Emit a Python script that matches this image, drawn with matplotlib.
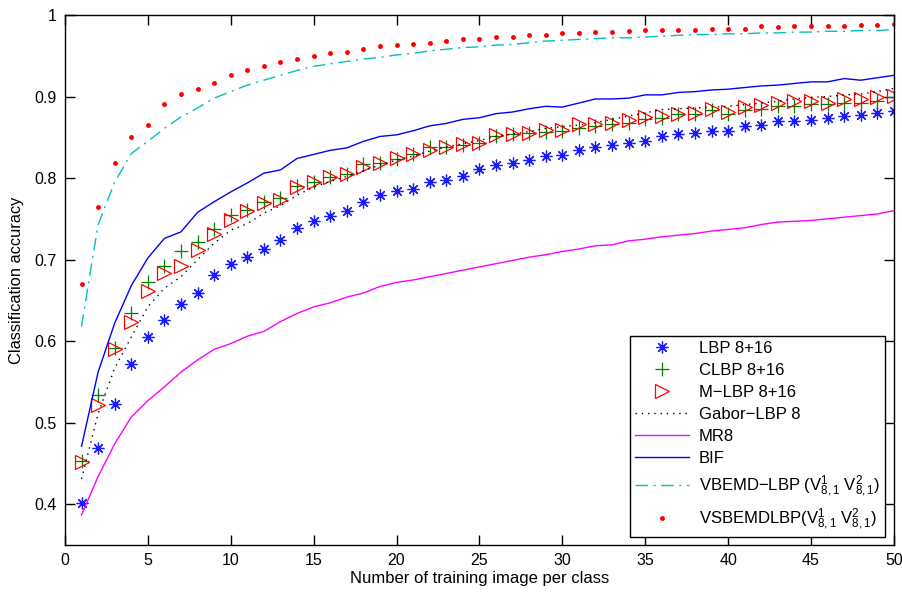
import numpy as np
import matplotlib
matplotlib.use("Agg")
import matplotlib.pyplot as plt

plt.rcParams.update({"font.family": ["Liberation Sans", "DejaVu Sans"],
                     "mathtext.fontset": "custom",
                     "mathtext.rm": "Liberation Sans",
                     "mathtext.it": "Liberation Sans",
                     "axes.linewidth": 1.0})

x = np.arange(1, 51)

lbp = [0.402, 0.469, 0.523, 0.572, 0.605, 0.626, 0.645, 0.659, 0.681, 0.694,
       0.703, 0.713, 0.724, 0.739, 0.747, 0.754, 0.759, 0.771, 0.779, 0.784,
       0.787, 0.795, 0.798, 0.803, 0.811, 0.816, 0.819, 0.822, 0.827, 0.828,
       0.834, 0.838, 0.840, 0.843, 0.845, 0.851, 0.854, 0.855, 0.858, 0.858,
       0.864, 0.865, 0.870, 0.870, 0.871, 0.874, 0.876, 0.877, 0.880, 0.882]
clbp = [0.453, 0.534, 0.591, 0.634, 0.672, 0.692, 0.711, 0.721, 0.737, 0.755,
        0.761, 0.771, 0.776, 0.790, 0.795, 0.801, 0.805, 0.817, 0.818, 0.823,
        0.830, 0.838, 0.838, 0.841, 0.843, 0.852, 0.854, 0.855, 0.856, 0.858,
        0.862, 0.864, 0.866, 0.867, 0.873, 0.874, 0.878, 0.879, 0.883, 0.879,
        0.883, 0.885, 0.888, 0.888, 0.891, 0.891, 0.892, 0.892, 0.895, 0.899]
mlbp = [0.452, 0.522, 0.590, 0.624, 0.661, 0.684, 0.692, 0.712, 0.732, 0.749,
        0.760, 0.769, 0.773, 0.789, 0.795, 0.801, 0.805, 0.814, 0.819, 0.825,
        0.829, 0.835, 0.838, 0.842, 0.843, 0.853, 0.854, 0.855, 0.859, 0.859,
        0.866, 0.866, 0.868, 0.871, 0.875, 0.876, 0.879, 0.880, 0.885, 0.881,
        0.887, 0.890, 0.892, 0.894, 0.895, 0.892, 0.897, 0.897, 0.899, 0.901]
gabor = [0.431, 0.511, 0.567, 0.605, 0.642, 0.665, 0.679, 0.700, 0.720, 0.736,
         0.744, 0.757, 0.766, 0.779, 0.789, 0.796, 0.802, 0.809, 0.816, 0.822,
         0.827, 0.833, 0.838, 0.842, 0.846, 0.851, 0.854, 0.857, 0.861, 0.863,
         0.865, 0.868, 0.872, 0.876, 0.880, 0.884, 0.885, 0.886, 0.887, 0.888,
         0.890, 0.892, 0.894, 0.897, 0.899, 0.900, 0.902, 0.903, 0.906, 0.910]
mr8 = [0.387, 0.434, 0.474, 0.507, 0.527, 0.544, 0.562, 0.577, 0.590, 0.597,
       0.606, 0.612, 0.624, 0.634, 0.642, 0.647, 0.654, 0.659, 0.667, 0.672,
       0.675, 0.679, 0.683, 0.687, 0.691, 0.695, 0.699, 0.703, 0.706, 0.710,
       0.713, 0.717, 0.718, 0.723, 0.725, 0.728, 0.730, 0.732, 0.735, 0.737,
       0.739, 0.743, 0.746, 0.747, 0.748, 0.750, 0.752, 0.754, 0.756, 0.760]
bif = [0.471, 0.562, 0.622, 0.668, 0.702, 0.726, 0.734, 0.758, 0.771, 0.783,
       0.794, 0.806, 0.810, 0.824, 0.829, 0.834, 0.837, 0.845, 0.851, 0.853,
       0.858, 0.864, 0.867, 0.872, 0.874, 0.879, 0.881, 0.885, 0.888, 0.887,
       0.892, 0.897, 0.897, 0.898, 0.902, 0.902, 0.905, 0.906, 0.908, 0.909,
       0.911, 0.913, 0.914, 0.916, 0.918, 0.918, 0.922, 0.920, 0.923, 0.926]
vbemd = [0.618, 0.743, 0.795, 0.830, 0.845, 0.861, 0.875, 0.886, 0.898, 0.906,
         0.914, 0.920, 0.926, 0.932, 0.937, 0.940, 0.943, 0.946, 0.948, 0.951,
         0.953, 0.956, 0.958, 0.960, 0.961, 0.963, 0.964, 0.966, 0.968, 0.969,
         0.970, 0.971, 0.972, 0.972, 0.973, 0.974, 0.975, 0.976, 0.976, 0.977,
         0.977, 0.978, 0.978, 0.979, 0.979, 0.980, 0.980, 0.981, 0.981, 0.982]
vsbemd = [0.670, 0.764, 0.818, 0.850, 0.865, 0.891, 0.903, 0.909, 0.917, 0.927,
          0.932, 0.937, 0.942, 0.946, 0.950, 0.953, 0.954, 0.958, 0.962, 0.963,
          0.965, 0.966, 0.968, 0.970, 0.971, 0.973, 0.973, 0.975, 0.975, 0.978,
          0.978, 0.979, 0.979, 0.980, 0.981, 0.982, 0.982, 0.982, 0.983, 0.983,
          0.983, 0.986, 0.985, 0.987, 0.986, 0.987, 0.987, 0.988, 0.988, 0.989]

labels = ["LBP 8+16", "CLBP 8+16", "M\u2212LBP 8+16", "Gabor\u2212LBP 8", "MR8", "BIF",
          r"VBEMD$-$LBP ($\mathregular{V^1_{8,1}\ V^2_{8,1}}$)",
          r"VSBEMDLBP($\mathregular{V^1_{8,1}\ V^2_{8,1}}$)"]

fig = plt.figure(figsize=(9.02, 5.92), dpi=100)
ax = fig.add_axes([0.072, 0.0794, 0.919, 0.8953])

ax.plot(x, lbp, ls="none", marker=(8, 2, 0), ms=8.5, mew=0.9, color="#1a1aff", label=labels[0])
ax.plot(x, clbp, ls="none", marker="+", ms=10, mew=0.9, color="#008000", label=labels[1])
ax.plot(x, mlbp, ls="none", marker=">", ms=9.5, mew=0.9, mfc="none", color="#ff0000", label=labels[2])
ax.plot(x, gabor, ls=(0, (1, 3.5)), lw=1.0, color="black", label=labels[3])
ax.plot(x, mr8, ls="-", lw=1.0, color="#ff00ff", label=labels[4])
ax.plot(x, bif, ls="-", lw=1.0, color="#0000ff", label=labels[5])
ax.plot(x, vbemd, ls=(0, (9, 4, 1.5, 4)), lw=1.0, color="#00bfbf", label=labels[6])
ax.plot(x, vsbemd, ls="none", marker=".", ms=5, color="#ff0000", label=labels[7])

ax.set_xlim(0, 50)
ax.set_ylim(0.35, 1.0)
ax.set_xticks(np.arange(0, 51, 5))
ax.set_yticks([0.4, 0.5, 0.6, 0.7, 0.8, 0.9, 1.0])
ax.set_yticklabels(["0.4", "0.5", "0.6", "0.7", "0.8", "0.9", "1"])
ax.tick_params(direction="in", length=7, width=1.0, top=True, right=True, labelsize=11.5, pad=6)
ax.set_xlabel("Number of training image per class", fontsize=12, labelpad=2)
ax.set_ylabel("Classification accuracy", fontsize=11.8)
ax.yaxis.set_label_coords(-0.049, 0.5)

leg = ax.legend(loc="lower right", bbox_to_anchor=(0.989, 0.015), fontsize=12,
                fancybox=False, edgecolor="black", framealpha=1, handlelength=3.2,
                handletextpad=0.6, borderpad=0.3, labelspacing=0.42, borderaxespad=0)
leg.get_frame().set_linewidth(1.0)

fig.savefig("out.png", dpi=100)
